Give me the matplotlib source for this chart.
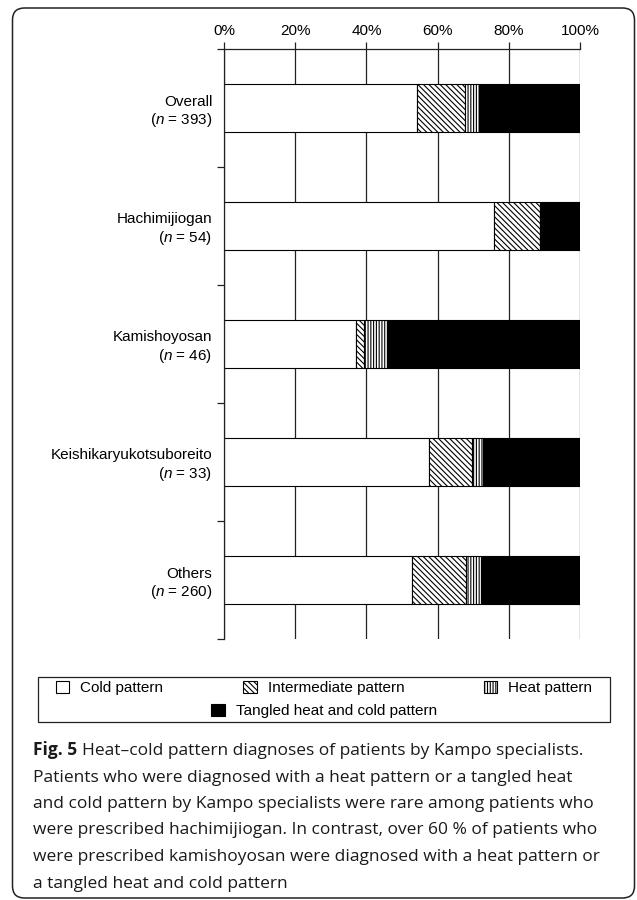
import matplotlib.pyplot as plt
import matplotlib.patches as mpatches
from matplotlib.transforms import IdentityTransform

plt.rcParams['font.family'] = ['Liberation Sans', 'DejaVu Sans']
plt.rcParams['mathtext.fontset'] = 'custom'
plt.rcParams['mathtext.rm'] = 'Liberation Sans'
plt.rcParams['mathtext.it'] = 'Liberation Sans:italic'
plt.rcParams['hatch.linewidth'] = 0.8

# share of patients (%) per heat-cold pattern
groups = ['Overall', 'Hachimijiogan', 'Kamishoyosan', 'Keishikaryukotsuboreito', 'Others']
n_patients = [393, 54, 46, 33, 260]
cold = [54.2, 75.9, 37.0, 57.6, 52.7]
intermediate = [13.5, 13.0, 2.2, 12.1, 15.4]
heat = [3.8, 0.0, 6.5, 3.0, 4.2]
tangled = [28.5, 11.1, 54.3, 27.3, 27.7]

series = [
    ('Cold pattern', cold, 'white', ''),
    ('Intermediate pattern', intermediate, 'white', '\\' * 6),
    ('Heat pattern', heat, 'white', '|' * 6),
    ('Tangled heat and cold pattern', tangled, 'black', ''),
]

W, H = 637, 900
fig = plt.figure(figsize=(W / 100, H / 100), dpi=100)

# outer rounded frame
fig.add_artist(mpatches.FancyBboxPatch((12.5, H - 898), 622, 890,
                                       boxstyle='round,pad=0,rounding_size=12',
                                       transform=IdentityTransform(),
                                       fill=False, edgecolor='#222222', linewidth=1.1))

ax = fig.add_axes([224 / W, 1 - 639 / H, 356 / W, 590 / H])

ypos = [i + 0.5 for i in range(len(groups))]
left = [0.0] * len(groups)
handles = []
for name, vals, fc, hatch in series:
    ax.barh(ypos, vals, left=left, height=0.4, color=fc, edgecolor='black',
            linewidth=0.8, hatch=hatch, zorder=2)
    left = [l + v for l, v in zip(left, vals)]
    handles.append(mpatches.Patch(facecolor=fc, edgecolor='black', hatch=hatch,
                                  linewidth=0.8, label=name))

ax.set_xlim(0, 100)
ax.set_ylim(len(groups), 0)
ax.xaxis.tick_top()
ax.set_xticks(range(0, 101, 20))
ax.set_xticklabels([f'{v}%' for v in range(0, 101, 20)])
ax.tick_params(axis='x', direction='out', length=5, width=0.9, pad=3,
               labelsize=11, color='#222222')

ax.set_yticks(range(len(groups) + 1))
ax.set_yticklabels([])
ax.tick_params(axis='y', which='major', direction='out', length=5, width=0.9,
               color='#222222')
ax.set_yticks(ypos, minor=True)
ax.set_yticklabels([f'{g}\n($n$ = {n})' for g, n in zip(groups, n_patients)],
                   minor=True)
ax.tick_params(axis='y', which='minor', length=0, pad=8.5, labelsize=11)

ax.set_axisbelow(True)
ax.xaxis.grid(True, color='#222222', linewidth=0.9)
for side in ['bottom', 'right']:
    ax.spines[side].set_visible(False)
for side in ['left', 'top']:
    ax.spines[side].set_linewidth(0.9)
    ax.spines[side].set_color('#222222')

# legend: three entries on the first row, the fourth centred below
leg_kw = dict(loc='center', frameon=False, fontsize=11, handlelength=0.9,
              handleheight=0.85, handletextpad=0.72, columnspacing=5.2,
              borderpad=0, borderaxespad=0)
fig.legend(handles=handles[:3], ncol=3, bbox_to_anchor=(324 / W, 1 - 688 / H), **leg_kw)
fig.legend(handles=handles[3:], ncol=1, bbox_to_anchor=(324 / W, 1 - 711 / H), **leg_kw)
fig.add_artist(mpatches.Rectangle((38 / W, 1 - 722 / H), 572 / W, 45 / H,
                                  transform=fig.transFigure, fill=False,
                                  edgecolor='#222222', linewidth=0.9))

# caption
cap_font = dict(family=['Open Sans', 'DejaVu Sans'], fontsize=12.5, color='#1a1a1a')
cap_lines = [
    'Heat\u2013cold pattern diagnoses of patients by Kampo specialists.',
    'Patients who were diagnosed with a heat pattern or a tangled heat',
    'and cold pattern by Kampo specialists were rare among patients who',
    'were prescribed hachimijiogan. In contrast, over 60 % of patients who',
    'were prescribed kamishoyosan were diagnosed with a heat pattern or',
    'a tangled heat and cold pattern',
]
x0 = 33
renderer = fig.canvas.get_renderer()
for i, line in enumerate(cap_lines):
    yb = 1 - (755 + 26.5 * i) / H
    if i == 0:
        fig_t = fig.text(x0 / W, yb, 'Fig. 5', fontweight='bold', va='baseline', **cap_font)
        x1 = fig_t.get_window_extent(renderer=renderer).x1
        fig.text((x1 + 5) / W, yb, line, va='baseline', **cap_font)
    else:
        fig.text(x0 / W, yb, line, va='baseline', **cap_font)

fig.savefig('out.png', dpi=100)
